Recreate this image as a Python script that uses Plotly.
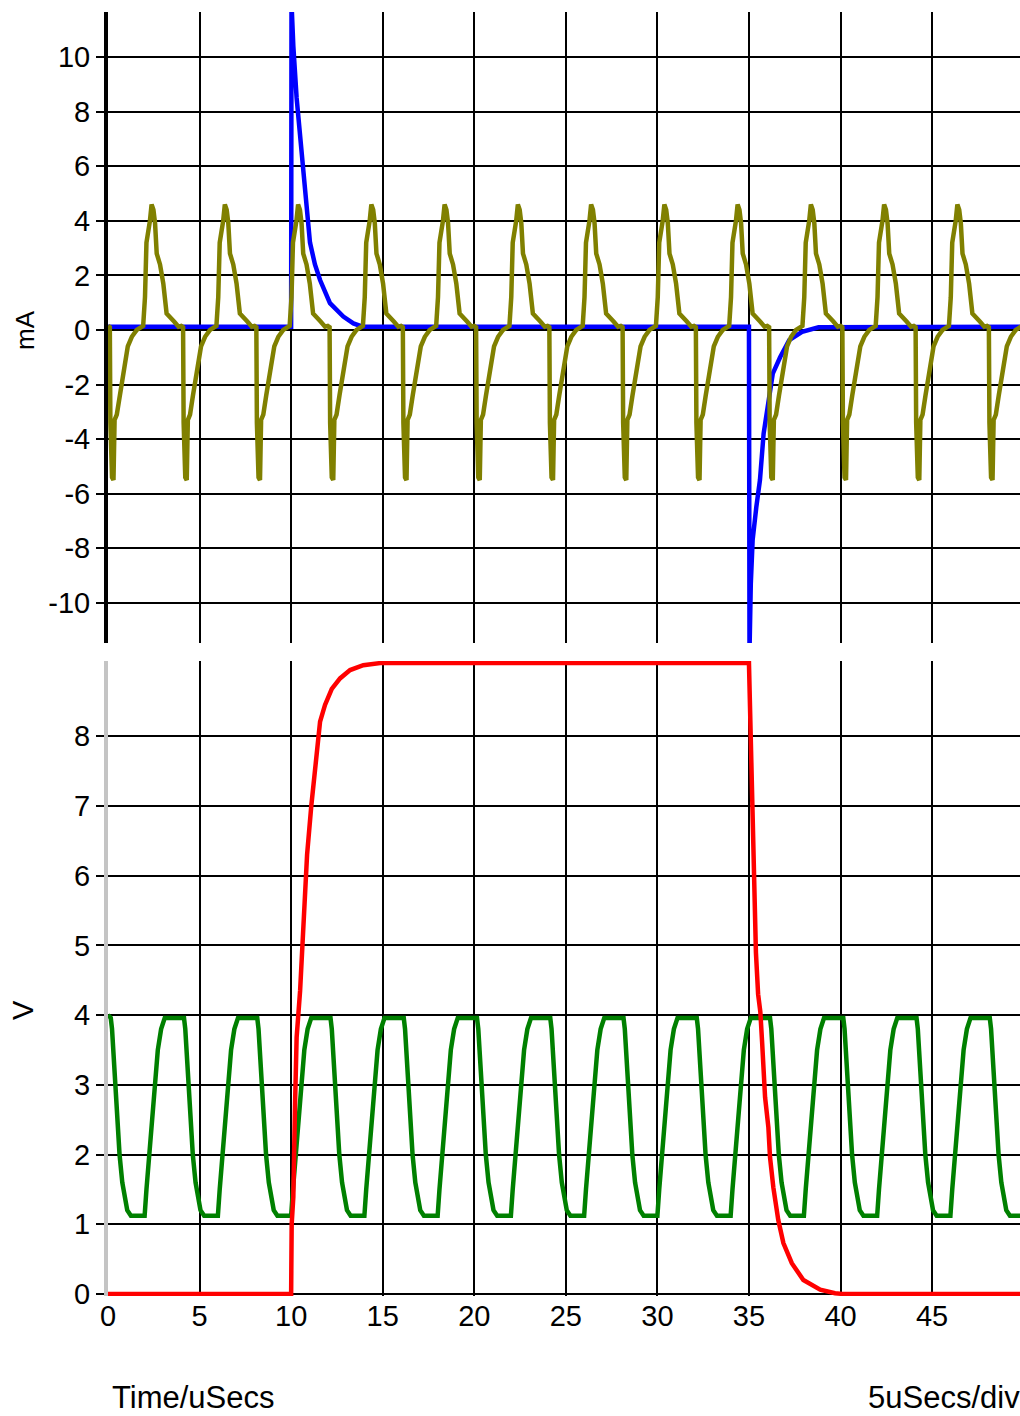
import plotly.graph_objects as go

# ---------------- data ----------------
# top panel (mA): blue current
blue_t = [0.0, 10.0, 10.02, 10.12, 10.3, 10.49, 10.67, 10.85, 11.03, 11.3, 11.58, 12.12, 12.85, 13.4, 13.9,
          35.0, 35.03, 35.1, 35.2, 35.4, 35.6, 35.8, 36.1, 36.3, 36.7, 37.2, 37.9, 38.8, 50.0]
blue_ma = [0.12, 0.12, 12.0, 10.4, 8.5, 7.2, 6.0, 4.8, 3.2, 2.4, 1.83, 0.98, 0.49, 0.24, 0.12,
           0.12, -11.8, -9.3, -7.7, -6.5, -5.5, -3.8, -2.6, -1.6, -1.0, -0.37, -0.07, 0.1, 0.12]

# top panel (mA): olive current
olive_t = [
    0.00, 0.10, 0.13, 0.22, 0.30, 0.36, 0.48, 0.64, 0.78, 0.92, 1.08, 1.30, 1.57, 1.92, 2.02, 2.10, 2.22, 2.29, 2.38, 2.48, 2.57, 2.66, 2.84, 3.02, 3.20, 3.45, 3.62, 3.85,
    4.00, 4.10, 4.13, 4.22, 4.30, 4.36, 4.48, 4.64, 4.78, 4.92, 5.08, 5.30, 5.57, 5.92, 6.02, 6.10, 6.22, 6.29, 6.38, 6.48, 6.57, 6.66, 6.84, 7.02, 7.20, 7.45, 7.62, 7.85,
    8.00, 8.10, 8.13, 8.22, 8.30, 8.36, 8.48, 8.64, 8.78, 8.92, 9.08, 9.30, 9.57, 9.92, 10.02, 10.10, 10.22, 10.29, 10.38, 10.48, 10.57, 10.66, 10.84, 11.02, 11.20, 11.45, 11.62, 11.85,
    12.00, 12.10, 12.13, 12.22, 12.30, 12.36, 12.48, 12.64, 12.78, 12.92, 13.08, 13.30, 13.57, 13.92, 14.02, 14.10, 14.22, 14.29, 14.38, 14.48, 14.57, 14.66, 14.84, 15.02, 15.20, 15.45, 15.62, 15.85,
    16.00, 16.10, 16.13, 16.22, 16.30, 16.36, 16.48, 16.64, 16.78, 16.92, 17.08, 17.30, 17.57, 17.92, 18.02, 18.10, 18.22, 18.29, 18.38, 18.48, 18.57, 18.66, 18.84, 19.02, 19.20, 19.45, 19.62, 19.85,
    20.00, 20.10, 20.13, 20.22, 20.30, 20.36, 20.48, 20.64, 20.78, 20.92, 21.08, 21.30, 21.57, 21.92, 22.02, 22.10, 22.22, 22.29, 22.38, 22.48, 22.57, 22.66, 22.84, 23.02, 23.20, 23.45, 23.62, 23.85,
    24.00, 24.10, 24.13, 24.22, 24.30, 24.36, 24.48, 24.64, 24.78, 24.92, 25.08, 25.30, 25.57, 25.92, 26.02, 26.10, 26.22, 26.29, 26.38, 26.48, 26.57, 26.66, 26.84, 27.02, 27.20, 27.45, 27.62, 27.85,
    28.00, 28.10, 28.13, 28.22, 28.30, 28.36, 28.48, 28.64, 28.78, 28.92, 29.08, 29.30, 29.57, 29.92, 30.02, 30.10, 30.22, 30.29, 30.38, 30.48, 30.57, 30.66, 30.84, 31.02, 31.20, 31.45, 31.62, 31.85,
    32.00, 32.10, 32.13, 32.22, 32.30, 32.36, 32.48, 32.64, 32.78, 32.92, 33.08, 33.30, 33.57, 33.92, 34.02, 34.10, 34.22, 34.29, 34.38, 34.48, 34.57, 34.66, 34.84, 35.02, 35.20, 35.45, 35.62, 35.85,
    36.00, 36.10, 36.13, 36.22, 36.30, 36.36, 36.48, 36.64, 36.78, 36.92, 37.08, 37.30, 37.57, 37.92, 38.02, 38.10, 38.22, 38.29, 38.38, 38.48, 38.57, 38.66, 38.84, 39.02, 39.20, 39.45, 39.62, 39.85,
    40.00, 40.10, 40.13, 40.22, 40.30, 40.36, 40.48, 40.64, 40.78, 40.92, 41.08, 41.30, 41.57, 41.92, 42.02, 42.10, 42.22, 42.29, 42.38, 42.48, 42.57, 42.66, 42.84, 43.02, 43.20, 43.45, 43.62, 43.85,
    44.00, 44.10, 44.13, 44.22, 44.30, 44.36, 44.48, 44.64, 44.78, 44.92, 45.08, 45.30, 45.57, 45.92, 46.02, 46.10, 46.22, 46.29, 46.38, 46.48, 46.57, 46.66, 46.84, 47.02, 47.20, 47.45, 47.62, 47.85,
    48.00, 48.10, 48.13, 48.22, 48.30, 48.36, 48.48, 48.64, 48.78, 48.92, 49.08, 49.30, 49.57, 49.92, 50.02,
]
olive_ma = [
    0.15, 0.10, -3.4, -5.4, -5.5, -3.3, -3.1, -2.4, -1.8, -1.1, -0.6, -0.25, 0.0, 0.15, 1.2, 3.2, 3.6, 4.0, 4.6, 4.4, 3.9, 2.8, 2.4, 1.7, 0.6, 0.45, 0.3, 0.12,
    0.15, 0.10, -3.4, -5.4, -5.5, -3.3, -3.1, -2.4, -1.8, -1.1, -0.6, -0.25, 0.0, 0.15, 1.2, 3.2, 3.6, 4.0, 4.6, 4.4, 3.9, 2.8, 2.4, 1.7, 0.6, 0.45, 0.3, 0.12,
    0.15, 0.10, -3.4, -5.4, -5.5, -3.3, -3.1, -2.4, -1.8, -1.1, -0.6, -0.25, 0.0, 0.15, 1.2, 3.2, 3.6, 4.0, 4.6, 4.4, 3.9, 2.8, 2.4, 1.7, 0.6, 0.45, 0.3, 0.12,
    0.15, 0.10, -3.4, -5.4, -5.5, -3.3, -3.1, -2.4, -1.8, -1.1, -0.6, -0.25, 0.0, 0.15, 1.2, 3.2, 3.6, 4.0, 4.6, 4.4, 3.9, 2.8, 2.4, 1.7, 0.6, 0.45, 0.3, 0.12,
    0.15, 0.10, -3.4, -5.4, -5.5, -3.3, -3.1, -2.4, -1.8, -1.1, -0.6, -0.25, 0.0, 0.15, 1.2, 3.2, 3.6, 4.0, 4.6, 4.4, 3.9, 2.8, 2.4, 1.7, 0.6, 0.45, 0.3, 0.12,
    0.15, 0.10, -3.4, -5.4, -5.5, -3.3, -3.1, -2.4, -1.8, -1.1, -0.6, -0.25, 0.0, 0.15, 1.2, 3.2, 3.6, 4.0, 4.6, 4.4, 3.9, 2.8, 2.4, 1.7, 0.6, 0.45, 0.3, 0.12,
    0.15, 0.10, -3.4, -5.4, -5.5, -3.3, -3.1, -2.4, -1.8, -1.1, -0.6, -0.25, 0.0, 0.15, 1.2, 3.2, 3.6, 4.0, 4.6, 4.4, 3.9, 2.8, 2.4, 1.7, 0.6, 0.45, 0.3, 0.12,
    0.15, 0.10, -3.4, -5.4, -5.5, -3.3, -3.1, -2.4, -1.8, -1.1, -0.6, -0.25, 0.0, 0.15, 1.2, 3.2, 3.6, 4.0, 4.6, 4.4, 3.9, 2.8, 2.4, 1.7, 0.6, 0.45, 0.3, 0.12,
    0.15, 0.10, -3.4, -5.4, -5.5, -3.3, -3.1, -2.4, -1.8, -1.1, -0.6, -0.25, 0.0, 0.15, 1.2, 3.2, 3.6, 4.0, 4.6, 4.4, 3.9, 2.8, 2.4, 1.7, 0.6, 0.45, 0.3, 0.12,
    0.15, 0.10, -3.4, -5.4, -5.5, -3.3, -3.1, -2.4, -1.8, -1.1, -0.6, -0.25, 0.0, 0.15, 1.2, 3.2, 3.6, 4.0, 4.6, 4.4, 3.9, 2.8, 2.4, 1.7, 0.6, 0.45, 0.3, 0.12,
    0.15, 0.10, -3.4, -5.4, -5.5, -3.3, -3.1, -2.4, -1.8, -1.1, -0.6, -0.25, 0.0, 0.15, 1.2, 3.2, 3.6, 4.0, 4.6, 4.4, 3.9, 2.8, 2.4, 1.7, 0.6, 0.45, 0.3, 0.12,
    0.15, 0.10, -3.4, -5.4, -5.5, -3.3, -3.1, -2.4, -1.8, -1.1, -0.6, -0.25, 0.0, 0.15, 1.2, 3.2, 3.6, 4.0, 4.6, 4.4, 3.9, 2.8, 2.4, 1.7, 0.6, 0.45, 0.3, 0.12,
    0.15, 0.10, -3.4, -5.4, -5.5, -3.3, -3.1, -2.4, -1.8, -1.1, -0.6, -0.25, 0.0, 0.15, 1.2,
]

# bottom panel (V): green voltage
green_t = [
    0.00, 0.15, 0.22, 0.30, 0.38, 0.50, 0.63, 0.78, 0.92, 1.05, 1.25, 2.00, 2.10, 2.25, 2.40, 2.55, 2.72, 2.90, 3.10,
    4.00, 4.15, 4.22, 4.30, 4.38, 4.50, 4.63, 4.78, 4.92, 5.05, 5.25, 6.00, 6.10, 6.25, 6.40, 6.55, 6.72, 6.90, 7.10,
    8.00, 8.15, 8.22, 8.30, 8.38, 8.50, 8.63, 8.78, 8.92, 9.05, 9.25, 10.00, 10.10, 10.25, 10.40, 10.55, 10.72, 10.90, 11.10,
    12.00, 12.15, 12.22, 12.30, 12.38, 12.50, 12.63, 12.78, 12.92, 13.05, 13.25, 14.00, 14.10, 14.25, 14.40, 14.55, 14.72, 14.90, 15.10,
    16.00, 16.15, 16.22, 16.30, 16.38, 16.50, 16.63, 16.78, 16.92, 17.05, 17.25, 18.00, 18.10, 18.25, 18.40, 18.55, 18.72, 18.90, 19.10,
    20.00, 20.15, 20.22, 20.30, 20.38, 20.50, 20.63, 20.78, 20.92, 21.05, 21.25, 22.00, 22.10, 22.25, 22.40, 22.55, 22.72, 22.90, 23.10,
    24.00, 24.15, 24.22, 24.30, 24.38, 24.50, 24.63, 24.78, 24.92, 25.05, 25.25, 26.00, 26.10, 26.25, 26.40, 26.55, 26.72, 26.90, 27.10,
    28.00, 28.15, 28.22, 28.30, 28.38, 28.50, 28.63, 28.78, 28.92, 29.05, 29.25, 30.00, 30.10, 30.25, 30.40, 30.55, 30.72, 30.90, 31.10,
    32.00, 32.15, 32.22, 32.30, 32.38, 32.50, 32.63, 32.78, 32.92, 33.05, 33.25, 34.00, 34.10, 34.25, 34.40, 34.55, 34.72, 34.90, 35.10,
    36.00, 36.15, 36.22, 36.30, 36.38, 36.50, 36.63, 36.78, 36.92, 37.05, 37.25, 38.00, 38.10, 38.25, 38.40, 38.55, 38.72, 38.90, 39.10,
    40.00, 40.15, 40.22, 40.30, 40.38, 40.50, 40.63, 40.78, 40.92, 41.05, 41.25, 42.00, 42.10, 42.25, 42.40, 42.55, 42.72, 42.90, 43.10,
    44.00, 44.15, 44.22, 44.30, 44.38, 44.50, 44.63, 44.78, 44.92, 45.05, 45.25, 46.00, 46.10, 46.25, 46.40, 46.55, 46.72, 46.90, 47.10,
    48.00, 48.15, 48.22, 48.30, 48.38, 48.50, 48.63, 48.78, 48.92, 49.05, 49.25, 50.00,
]
green_v = [
    4.00, 3.96, 3.8, 3.4, 3.0, 2.5, 2.0, 1.6, 1.35, 1.2, 1.12, 1.12, 1.5, 2.0, 2.5, 3.0, 3.5, 3.8, 3.96,
    3.96, 3.96, 3.8, 3.4, 3.0, 2.5, 2.0, 1.6, 1.35, 1.2, 1.12, 1.12, 1.5, 2.0, 2.5, 3.0, 3.5, 3.8, 3.96,
    3.96, 3.96, 3.8, 3.4, 3.0, 2.5, 2.0, 1.6, 1.35, 1.2, 1.12, 1.12, 1.5, 2.0, 2.5, 3.0, 3.5, 3.8, 3.96,
    3.96, 3.96, 3.8, 3.4, 3.0, 2.5, 2.0, 1.6, 1.35, 1.2, 1.12, 1.12, 1.5, 2.0, 2.5, 3.0, 3.5, 3.8, 3.96,
    3.96, 3.96, 3.8, 3.4, 3.0, 2.5, 2.0, 1.6, 1.35, 1.2, 1.12, 1.12, 1.5, 2.0, 2.5, 3.0, 3.5, 3.8, 3.96,
    3.96, 3.96, 3.8, 3.4, 3.0, 2.5, 2.0, 1.6, 1.35, 1.2, 1.12, 1.12, 1.5, 2.0, 2.5, 3.0, 3.5, 3.8, 3.96,
    3.96, 3.96, 3.8, 3.4, 3.0, 2.5, 2.0, 1.6, 1.35, 1.2, 1.12, 1.12, 1.5, 2.0, 2.5, 3.0, 3.5, 3.8, 3.96,
    3.96, 3.96, 3.8, 3.4, 3.0, 2.5, 2.0, 1.6, 1.35, 1.2, 1.12, 1.12, 1.5, 2.0, 2.5, 3.0, 3.5, 3.8, 3.96,
    3.96, 3.96, 3.8, 3.4, 3.0, 2.5, 2.0, 1.6, 1.35, 1.2, 1.12, 1.12, 1.5, 2.0, 2.5, 3.0, 3.5, 3.8, 3.96,
    3.96, 3.96, 3.8, 3.4, 3.0, 2.5, 2.0, 1.6, 1.35, 1.2, 1.12, 1.12, 1.5, 2.0, 2.5, 3.0, 3.5, 3.8, 3.96,
    3.96, 3.96, 3.8, 3.4, 3.0, 2.5, 2.0, 1.6, 1.35, 1.2, 1.12, 1.12, 1.5, 2.0, 2.5, 3.0, 3.5, 3.8, 3.96,
    3.96, 3.96, 3.8, 3.4, 3.0, 2.5, 2.0, 1.6, 1.35, 1.2, 1.12, 1.12, 1.5, 2.0, 2.5, 3.0, 3.5, 3.8, 3.96,
    3.96, 3.96, 3.8, 3.4, 3.0, 2.5, 2.0, 1.6, 1.35, 1.2, 1.12, 1.12,
]

# bottom panel (V): red voltage
red_t = [0.0, 10.0, 10.03, 10.12, 10.21, 10.3, 10.49, 10.65, 10.87, 11.1, 11.4, 11.58, 11.85, 12.22, 12.67, 13.22, 13.94, 14.86,
         35.0, 35.05, 35.15, 35.27, 35.38, 35.5, 35.62, 35.72, 35.8, 35.88, 36.06, 36.15, 36.33, 36.6, 36.88, 37.34, 37.97, 38.89, 39.7, 40.1, 50.0]
red_v = [0.0, 0.0, 1.0, 1.39, 2.68, 3.68, 4.35, 5.3, 6.3, 7.0, 7.74, 8.21, 8.45, 8.68, 8.83, 8.95, 9.02, 9.05,
         9.05, 8.45, 7.1, 5.9, 4.9, 4.3, 4.05, 3.6, 3.2, 2.82, 2.39, 1.96, 1.53, 1.06, 0.73, 0.44, 0.2, 0.06, 0.01, 0.0, 0.0]

ma_ticks = [-10, -8, -6, -4, -2, 0, 2, 4, 6, 8, 10]
ma_ticktext = ["-10", "-8", "-6", "-4", "-2", "0", "2", "4", "6", "8", "10"]
v_ticks = [0, 1, 2, 3, 4, 5, 6, 7, 8]
time_ticks = [0, 5, 10, 15, 20, 25, 30, 35, 40, 45]

# ---------------- figure ----------------
FONT = "Liberation Sans, Arial, Helvetica, sans-serif"
W, H = 1020, 1416
ML, MR, MT, MB = 108, 0, 12, 120
plot_w = W - ML - MR
plot_h = H - MT - MB


def fy(px):
    """paper y-fraction for a pixel row"""
    return (H - MB - px) / plot_h


def fx(px):
    """paper x-fraction for a pixel column"""
    return (px - ML) / plot_w


fig = go.Figure()

fig.add_trace(go.Scatter(x=blue_t, y=blue_ma, mode="lines", xaxis="x2", yaxis="y2",
                         line=dict(color="#0000ff", width=4.5)))
fig.add_trace(go.Scatter(x=olive_t, y=olive_ma, mode="lines", xaxis="x2", yaxis="y2",
                         line=dict(color="#808000", width=4.5)))
fig.add_trace(go.Scatter(x=green_t, y=green_v, mode="lines", xaxis="x", yaxis="y",
                         line=dict(color="#008000", width=4.5)))
fig.add_trace(go.Scatter(x=red_t, y=red_v, mode="lines", xaxis="x", yaxis="y",
                         line=dict(color="#ff0000", width=4.5)))

tickfont = dict(family=FONT, size=29, color="black")
common_x = dict(range=[0, 49.8], tickvals=time_ticks, showgrid=True, gridcolor="black",
                gridwidth=2, zeroline=False, showline=False, ticks="", layer="below traces")

fig.update_layout(
    width=W, height=H,
    margin=dict(l=ML, r=MR, t=MT, b=MB, pad=0),
    paper_bgcolor="white", plot_bgcolor="white",
    showlegend=False,
    xaxis=dict(**common_x, anchor="y", domain=[0, 1], showticklabels=True, tickfont=tickfont),
    yaxis=dict(domain=[0, fy(661)], range=[-0.03, 9.08], tickvals=v_ticks,
               showgrid=True, gridcolor="black", gridwidth=2, zeroline=False,
               showline=True, linecolor="#c4c4c4", linewidth=4,
               ticks="outside", ticklen=8, tickwidth=2, tickcolor="black",
               tickfont=tickfont, layer="below traces", anchor="x"),
    xaxis2=dict(**common_x, anchor="y2", domain=[0, 1], showticklabels=False, matches="x"),
    yaxis2=dict(domain=[fy(643), 1], range=[-11.47, 11.65], tickvals=ma_ticks, ticktext=ma_ticktext,
                showgrid=True, gridcolor="black", gridwidth=2, zeroline=False,
                showline=True, linecolor="black", linewidth=4,
                ticks="outside", ticklen=8, tickwidth=2, tickcolor="black",
                tickfont=tickfont, layer="below traces", anchor="x2"),
    annotations=[
        dict(text="mA", xref="paper", yref="paper", x=fx(25), y=fy(330),
             xanchor="center", yanchor="middle", textangle=-90, showarrow=False,
             font=dict(family=FONT, size=26, color="black")),
        dict(text="V", xref="paper", yref="paper", x=fx(23), y=fy(1010),
             xanchor="center", yanchor="middle", textangle=-90, showarrow=False,
             font=dict(family=FONT, size=29, color="black")),
        dict(text="Time/uSecs", xref="paper", yref="paper", x=fx(110), y=fy(1397),
             xanchor="left", yanchor="middle", showarrow=False,
             font=dict(family=FONT, size=31, color="black")),
        dict(text="5uSecs/div", xref="paper", yref="paper", x=fx(866), y=fy(1397),
             xanchor="left", yanchor="middle", showarrow=False,
             font=dict(family=FONT, size=31, color="black")),
    ],
)

# remove the page's default body margin so the figure fills the 1020x1416 window exactly
fig.write_html("out.html",
               config={"displayModeBar": False},
               post_script="document.body.style.margin='0px';"
                           "document.documentElement.style.overflow='hidden';"
                           "document.body.style.overflow='hidden';")
